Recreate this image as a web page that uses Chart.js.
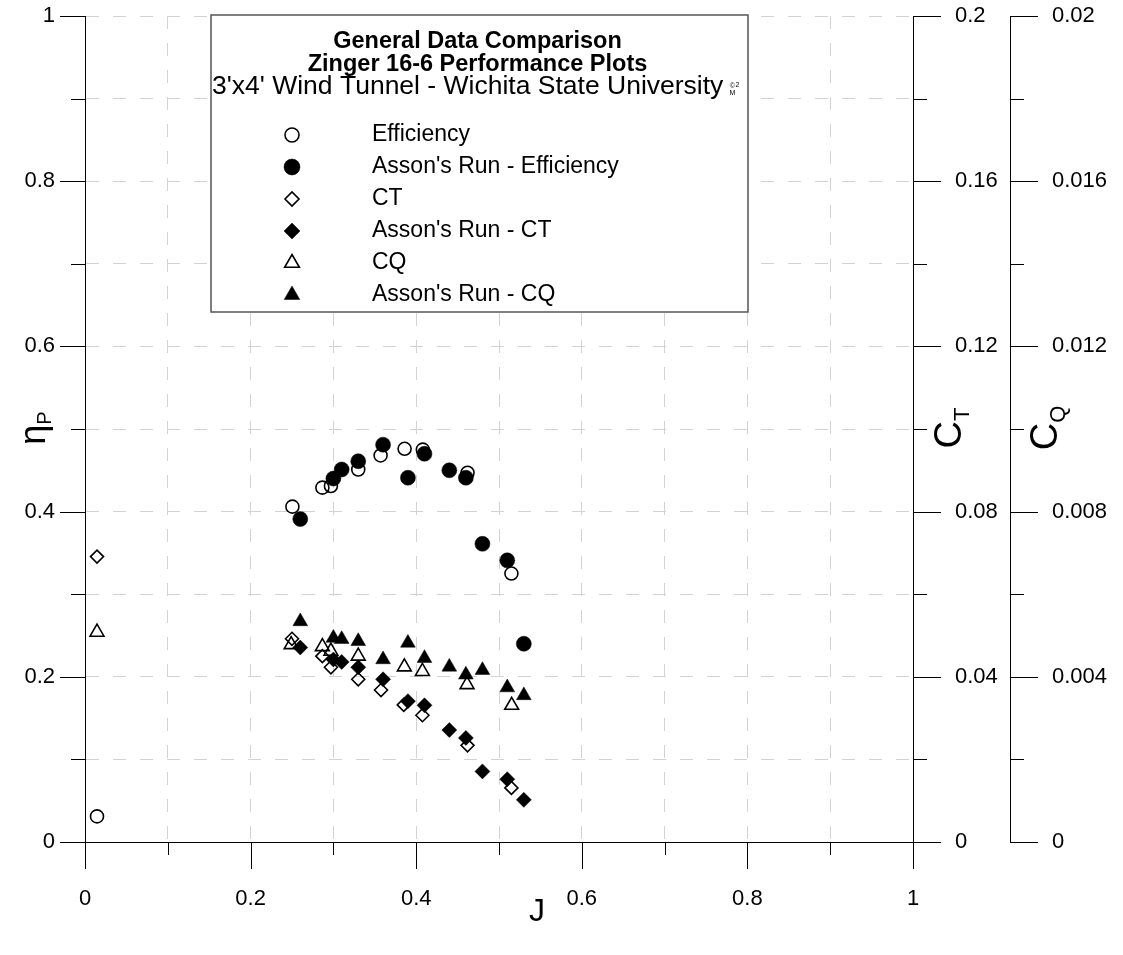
<!DOCTYPE html>
<html>
<head>
<meta charset="utf-8">
<script src="https://cdn.jsdelivr.net/npm/chart.js@4/dist/chart.umd.min.js"></script>
<style>
  html, body { margin: 0; padding: 0; background: #fff; }
  #wrap { position: relative; width: 1123px; height: 955px; }
</style>
</head>
<body>
<div id="wrap"><canvas id="chart"></canvas></div>
<script>
// Advance ratio J and efficiency (this test)
const effJ   = [0.0145, 0.2505, 0.2867, 0.297, 0.330, 0.357, 0.386, 0.408, 0.462, 0.515];
const effVal = [0.031, 0.406, 0.429, 0.431, 0.451, 0.468, 0.476, 0.475, 0.447, 0.325];

// Asson's run shares one set of J values for all three coefficients
const assonJ   = [0.26, 0.30, 0.31, 0.33, 0.36, 0.39, 0.41, 0.44, 0.46, 0.48, 0.51, 0.53];
const assonEff = [0.391, 0.440, 0.451, 0.461, 0.481, 0.441, 0.470, 0.450, 0.441, 0.361, 0.341, 0.240];
const assonCT  = [0.0471, 0.0442, 0.0436, 0.0423, 0.0394, 0.0341, 0.0331, 0.0271, 0.0252, 0.0171, 0.0152, 0.0102];
const assonCQ  = [0.00534, 0.00494, 0.00491, 0.00486, 0.00442, 0.00482, 0.00445, 0.00424, 0.00405, 0.00416, 0.00374, 0.00355];

// Thrust coefficient (this test)
const ctJ   = [0.0145, 0.250, 0.2867, 0.297, 0.330, 0.3575, 0.385, 0.4075, 0.462, 0.515];
const ctVal = [0.0691, 0.0492, 0.0450, 0.0423, 0.0394, 0.0368, 0.0332, 0.0307, 0.0234, 0.0131];

// Torque coefficient (this test)
const cqJ   = [0.0145, 0.249, 0.2867, 0.297, 0.330, 0.3857, 0.4075, 0.4614, 0.5153];
const cqVal = [0.00508, 0.00478, 0.00473, 0.00462, 0.00450, 0.00424, 0.00413, 0.00381, 0.00331];

// labelled (major) ticks; minor ticks sit halfway between
const jLabels   = ['0', '0.2', '0.4', '0.6', '0.8', '1'];
const etaLabels = ['0', '0.2', '0.4', '0.6', '0.8', '1'];
const ctLabels  = ['0', '0.04', '0.08', '0.12', '0.16', '0.2'];
const cqLabels  = ['0', '0.004', '0.008', '0.012', '0.016', '0.02'];

const legendTitle = ['General Data Comparison', 'Zinger 16-6 Performance Plots'];
const legendSub = "3'x4' Wind Tunnel - Wichita State University";

const FONT = '"Liberation Sans", Arial, Helvetica, sans-serif';
Chart.defaults.font.family = FONT;
Chart.defaults.color = '#000';

const pts = (xs, ys) => xs.map((x, i) => ({ x: x, y: ys[i] }));

const series = [
  { label: 'Efficiency', data: pts(effJ, effVal), yAxisID: 'y', pointStyle: 'circle', fill: false, radius: 6.5 },
  { label: "Asson's Run - Efficiency", data: pts(assonJ, assonEff), yAxisID: 'y', pointStyle: 'circle', fill: true, radius: 7.5 },
  { label: 'CT', data: pts(ctJ, ctVal), yAxisID: 'ct', pointStyle: 'rectRot', fill: false, radius: 6.5 },
  { label: "Asson's Run - CT", data: pts(assonJ, assonCT), yAxisID: 'ct', pointStyle: 'rectRot', fill: true, radius: 7.5 },
  { label: 'CQ', data: pts(cqJ, cqVal), yAxisID: 'cq', pointStyle: 'triangle', fill: false, radius: 8 },
  { label: "Asson's Run - CQ", data: pts(assonJ, assonCQ), yAxisID: 'cq', pointStyle: 'triangle', fill: true, radius: 8.5 }
];

const datasets = series.map((s, i) => ({
  label: s.label,
  data: s.data,
  yAxisID: s.yAxisID,
  showLine: false,
  order: series.length - i,
  pointStyle: s.pointStyle,
  pointRadius: s.radius,
  pointHoverRadius: s.radius,
  pointBorderWidth: s.fill ? 0.5 : 1.6,
  pointBorderColor: '#000',
  pointBackgroundColor: s.fill ? '#000' : 'rgba(0,0,0,0)'
}));

const GRID = '#d3d3d3';
const DASH = [13, 14];

// tick marks: long on labelled ticks, short in between, all pointing outward
const tickMarks = {
  id: 'tickMarks',
  afterDraw(chart) {
    const ctx = chart.ctx;
    ctx.save();
    ctx.strokeStyle = '#000';
    ctx.lineWidth = 1;
    const spec = { x: [27, 13], y: [25, 14], ct: [28, 14], cq: [28, 14] };
    Object.keys(spec).forEach(id => {
      const sc = chart.scales[id];
      sc.ticks.forEach((t, i) => {
        const len = i % 2 === 0 ? spec[id][0] : spec[id][1];
        const p = Math.round(sc.getPixelForValue(t.value)) + 0.5;
        ctx.beginPath();
        if (id === 'x') {
          ctx.moveTo(p, sc.top); ctx.lineTo(p, sc.top + len);
        } else if (id === 'y') {
          ctx.moveTo(sc.right, p); ctx.lineTo(sc.right - len, p);
        } else {
          ctx.moveTo(sc.left, p); ctx.lineTo(sc.left + len, p);
        }
        ctx.stroke();
      });
    });
    ctx.restore();
  }
};

// rotated axis title with a subscript, reading bottom to top
function sideTitle(ctx, x, y, main, sub, size, subSize, subDrop) {
  ctx.save();
  ctx.translate(x, y);
  ctx.rotate(-Math.PI / 2);
  ctx.textBaseline = 'alphabetic';
  ctx.textAlign = 'left';
  ctx.font = size + 'px ' + FONT;
  const w = ctx.measureText(main).width;
  ctx.font = subSize + 'px ' + FONT;
  const ws = ctx.measureText(sub).width;
  const x0 = -(w + ws) / 2;
  ctx.font = size + 'px ' + FONT;
  ctx.fillText(main, x0, 0);
  ctx.font = subSize + 'px ' + FONT;
  ctx.fillText(sub, x0 + w, subDrop);
  ctx.restore();
}

const titles = {
  id: 'titles',
  afterDraw(chart) {
    const ctx = chart.ctx;
    ctx.save();
    ctx.fillStyle = '#000';
    ctx.font = '32px ' + FONT;
    ctx.textAlign = 'center';
    ctx.textBaseline = 'middle';
    ctx.fillText('J', 537, 912);
    ctx.restore();
    sideTitle(ctx, 45, 428, '\u03b7', 'P', 36, 20, 6);
    sideTitle(ctx, 961, 428, 'C', 'T', 38, 22, 8);
    sideTitle(ctx, 1057, 428, 'C', 'Q', 38, 22, 8);
  }
};

// boxed legend sitting inside the plot
const boxLegend = {
  id: 'boxLegend',
  afterDraw(chart) {
    const ctx = chart.ctx;
    const box = { l: 211, t: 15, r: 748, b: 312 };
    ctx.save();
    ctx.fillStyle = '#fff';
    ctx.fillRect(box.l, box.t, box.r - box.l, box.b - box.t);
    ctx.strokeStyle = '#555';
    ctx.lineWidth = 1.5;
    ctx.strokeRect(box.l, box.t, box.r - box.l, box.b - box.t);

    const cx = (box.l + box.r) / 2;
    ctx.fillStyle = '#000';
    ctx.textAlign = 'center';
    ctx.textBaseline = 'middle';
    ctx.font = 'bold 23.5px ' + FONT;
    ctx.fillText(legendTitle[0], cx - 2, 42);
    ctx.fillText(legendTitle[1], cx - 2, 65);
    ctx.font = '26.5px ' + FONT;
    ctx.textAlign = 'left';
    ctx.fillText(legendSub, 212, 87);
    const subEnd = 212 + ctx.measureText(legendSub).width;
    ctx.textAlign = 'center';
    ctx.font = '7px ' + FONT;
    ctx.fillText('\u00a9', subEnd + 9, 86);
    ctx.fillText('M', subEnd + 9, 93);
    ctx.fillText('2', subEnd + 14, 85);

    ctx.textAlign = 'left';
    ctx.font = '23px ' + FONT;
    chart.data.datasets.forEach((ds, i) => {
      const y = 135 + i * 32;
      ctx.fillStyle = ds.pointBackgroundColor;
      ctx.strokeStyle = '#000';
      ctx.lineWidth = ds.pointBorderWidth;
      Chart.helpers.drawPoint(ctx, {
        pointStyle: ds.pointStyle,
        radius: ds.pointRadius + 0.5,
        borderWidth: ds.pointBorderWidth
      }, 292, y);
      ctx.fillStyle = '#000';
      ctx.fillText(ds.label, 372, y);
    });
    ctx.restore();
  }
};

function majorLabel(list) {
  return (v, i) => (i % 2 === 0 ? list[i / 2] : '');
}

// keep the plot frame fixed: no extra room for half-height end labels
function fixV(width) {
  return s => { s.width = width; s.paddingTop = 0; s.paddingBottom = 0; };
}

new Chart(document.getElementById('chart'), {
  type: 'scatter',
  data: { datasets: datasets },
  options: {
    responsive: true,
    maintainAspectRatio: false,
    animation: false,
    events: [],
    layout: { padding: { top: 16, left: 0, right: 0, bottom: 0 } },
    plugins: {
      legend: { display: false },
      tooltip: { enabled: false }
    },
    scales: {
      x: {
        type: 'linear',
        position: 'bottom',
        min: 0, max: 1,
        afterFit(s) { s.height = 113; s.paddingLeft = 0; s.paddingRight = 0; },
        ticks: { stepSize: 0.1, autoSkip: false, maxRotation: 0, padding: 44,
                 font: { size: 22 }, callback: majorLabel(jLabels) },
        grid: { color: GRID, lineWidth: 1, drawTicks: false },
        border: { display: true, color: '#000', width: 1, dash: DASH }
      },
      y: {
        type: 'linear',
        position: 'left',
        min: 0, max: 1,
        afterFit: fixV(85),
        ticks: { stepSize: 0.1, autoSkip: false, padding: 30,
                 font: { size: 22 }, callback: majorLabel(etaLabels) },
        grid: { color: GRID, lineWidth: 1, drawTicks: false },
        border: { display: true, color: '#000', width: 1, dash: DASH }
      },
      ct: {
        type: 'linear',
        position: 'right',
        weight: 1,
        min: 0, max: 0.2,
        afterFit: fixV(97),
        ticks: { stepSize: 0.02, autoSkip: false, padding: 42,
                 font: { size: 22 }, callback: majorLabel(ctLabels) },
        grid: { display: false, drawTicks: false },
        border: { display: true, color: '#000', width: 1 }
      },
      cq: {
        type: 'linear',
        position: 'right',
        weight: 2,
        min: 0, max: 0.02,
        afterFit: fixV(113),
        ticks: { stepSize: 0.002, autoSkip: false, padding: 42,
                 font: { size: 22 }, callback: majorLabel(cqLabels) },
        grid: { display: false, drawTicks: false },
        border: { display: true, color: '#000', width: 1 }
      }
    }
  },
  plugins: [tickMarks, titles, boxLegend]
});
</script>
</body>
</html>
